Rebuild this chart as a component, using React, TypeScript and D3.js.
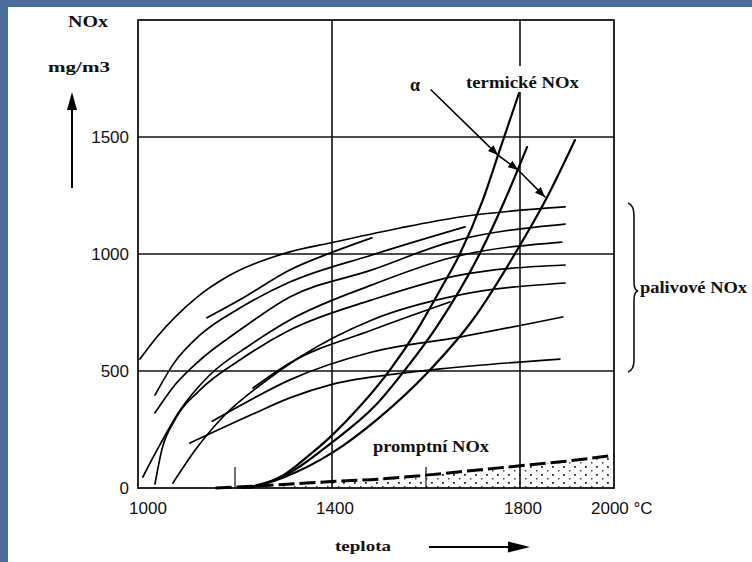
import React from "react";
import * as d3 from "d3";

const W = 752;
const H = 562;

const xTicks = [1000, 1400, 1800, 2000];
const yTicks = [0, 500, 1000, 1500];
const xGrid = [1400, 1800];
const yGrid = [500, 1000, 1500];
const minorTicks = [1200, 1600];

// palivové NOx curves, [°C, mg/m3]
const fuel1 = [[1004, 551], [1039, 645], [1122, 816], [1190, 910], [1313, 1009], [1396, 1047], [1545, 1111], [1672, 1158], [1896, 1201]];
const fuel2 = [[1142, 727], [1210, 804], [1313, 932], [1396, 1004], [1485, 1069]];
const fuel3 = [[1035, 397], [1076, 539], [1128, 654], [1210, 769], [1313, 880], [1485, 996], [1683, 1116]];
const fuel4 = [[1035, 321], [1076, 440], [1128, 547], [1210, 675], [1313, 816], [1485, 932], [1651, 1051], [1896, 1128]];
const fuel5 = [[1010, 47], [1045, 184], [1087, 333], [1148, 483], [1231, 611], [1313, 718], [1485, 868], [1651, 983], [1889, 1051]];
const fuel6 = [[1035, 17], [1049, 162], [1076, 291], [1128, 419], [1210, 547], [1313, 675], [1485, 804], [1672, 910], [1896, 953]];
const fuel7 = [[1072, 21], [1118, 162], [1179, 312], [1252, 440], [1334, 560], [1485, 718], [1672, 825], [1896, 876]];
const fuel8 = [[1153, 285], [1196, 335], [1313, 462], [1485, 581], [1672, 645], [1891, 731]];
const fuel9 = [[1107, 192], [1237, 316], [1313, 385], [1402, 444], [1545, 490], [1630, 509], [1885, 551]];
const fuel10 = [[1237, 427], [1313, 534], [1485, 675], [1651, 795]];
const fuelCurves = [fuel1, fuel2, fuel3, fuel4, fuel5, fuel6, fuel7, fuel8, fuel9, fuel10];

// termické NOx curves
const thermal1 = [[1215, 0], [1260, 18], [1300, 55], [1350, 135], [1400, 225], [1460, 350], [1523, 504], [1581, 675], [1630, 846], [1672, 1000], [1721, 1231], [1757, 1445], [1798, 1688]];
const thermal2 = [[1222, 0], [1300, 50], [1400, 195], [1491, 350], [1555, 504], [1623, 690], [1715, 1004], [1768, 1231], [1815, 1457]];
const thermal3 = [[1230, 0], [1300, 45], [1400, 150], [1500, 300], [1604, 495], [1700, 720], [1789, 1000], [1857, 1240], [1917, 1487]];
const thermalCurves = [thermal1, thermal2, thermal3];

// promptní NOx
const prompt = [[1160, 0], [1300, 15], [1400, 28], [1500, 38], [1600, 55], [1700, 75], [1800, 95], [1900, 115], [2000, 140]];

// α pointer
const alphaPath = [[1611, 1701], [1753, 1423], [1796, 1359], [1853, 1244]];

const x = d3.scaleLinear().domain([1000, 1400, 1800, 2000]).range([138, 332, 520, 614]);
const y = d3.scaleLinear().domain([0, 2000]).range([488, 20]);

const line = d3
  .line<number[]>()
  .x((d) => x(d[0]))
  .y((d) => y(d[1]))
  .curve(d3.curveMonotoneX);

const straight = d3
  .line<number[]>()
  .x((d) => x(d[0]))
  .y((d) => y(d[1]));

const promptArea = d3
  .area<number[]>()
  .x((d) => x(d[0]))
  .y0(y(0))
  .y1((d) => y(d[1]))
  .curve(d3.curveMonotoneX);

const serif = "'Liberation Serif', 'Times New Roman', serif";
const sans = "'Liberation Sans', Arial, sans-serif";

function head(px: number, py: number, ang: number, len = 10, w = 4) {
  const bx = px - len * Math.cos(ang);
  const by = py - len * Math.sin(ang);
  const nx = -Math.sin(ang) * w;
  const ny = Math.cos(ang) * w;
  return `M${px},${py}L${bx + nx},${by + ny}L${bx - nx},${by - ny}Z`;
}

export default function App() {
  const alphaHeads = alphaPath.slice(1).map((d, i) => {
    const p = alphaPath[i];
    const ang = Math.atan2(y(d[1]) - y(p[1]), x(d[0]) - x(p[0]));
    return head(x(d[0]), y(d[1]), ang);
  });

  return (
    <div style={{ position: "fixed", left: 0, top: 0 }}>
      <svg width={W} height={H} style={{ display: "block" }}>
        <defs>
          <pattern id="dots" width="11" height="8" patternUnits="userSpaceOnUse">
            <rect x="2" y="2" width="1.8" height="1.8" fill="#222" />
            <rect x="8" y="6" width="1.5" height="1.5" fill="#444" />
          </pattern>
        </defs>
        <rect width={W} height={H} fill="#4b6d9c" />
        <rect x={8} y={7} width={W - 8} height={H - 7} fill="#ffffff" />

        {/* stipple under prompt NOx */}
        <path d={promptArea(prompt.filter((d) => d[0] >= 1300)) || ""} fill="url(#dots)" />

        {/* grid */}
        <g stroke="#111" strokeWidth={1.6}>
          {xGrid.map((t) => (
            <line key={t} x1={x(t)} x2={x(t)} y1={y(0)} y2={y(2000)} />
          ))}
          {yGrid.map((v) => (
            <line key={v} x1={x(1000)} x2={x(2000)} y1={y(v)} y2={y(v)} />
          ))}
          {minorTicks.map((t) => (
            <line key={t} x1={x(t)} x2={x(t)} y1={y(0)} y2={y(90)} strokeWidth={1.2} />
          ))}
          <rect x={x(1000)} y={y(2000)} width={x(2000) - x(1000)} height={y(0) - y(2000)} fill="none" strokeWidth={1.8} />
        </g>

        {/* curves */}
        <g fill="none" stroke="#000" strokeLinecap="round">
          {fuelCurves.map((c, i) => (
            <path key={"f" + i} d={line(c) || ""} strokeWidth={1.7} />
          ))}
          {thermalCurves.map((c, i) => (
            <path key={"t" + i} d={line(c) || ""} strokeWidth={2.2} />
          ))}
          <path d={line(prompt) || ""} strokeWidth={3} strokeDasharray="16 5" strokeLinecap="butt" />
          <path d={straight(alphaPath) || ""} strokeWidth={1.6} />
        </g>
        <g fill="#000">
          {alphaHeads.map((d, i) => (
            <path key={i} d={d} />
          ))}
        </g>

        {/* tick labels */}
        <g fontFamily={sans} fontSize={17} fill="#111">
          {yTicks.map((v) => (
            <text key={v} x={129} y={y(v)} dy="0.36em" textAnchor="end">
              {v}
            </text>
          ))}
          {xTicks.slice(0, 3).map((t) => (
            <text key={t} x={x(t) + (t === 1000 ? 10 : 3)} y={514} textAnchor="middle">
              {t}
            </text>
          ))}
          <text x={x(2000) - 23} y={514}>2000 °C</text>
        </g>

        {/* labels */}
        <g fontFamily={serif} fontWeight="bold" fill="#111">
          <text x={68} y={27} fontSize={17} textLength={40} lengthAdjust="spacingAndGlyphs">NOx</text>
          <text x={48} y={72} fontSize={15} textLength={62} lengthAdjust="spacingAndGlyphs">mg/m3</text>
          <rect x={462} y={66} width={120} height={26} fill="#fff" />
          <text x={466} y={88} fontSize={17} textLength={113} lengthAdjust="spacingAndGlyphs">termické NOx</text>
          <text x={410} y={91} fontSize={18}>α</text>
          <text x={640} y={293} fontSize={16} textLength={107} lengthAdjust="spacingAndGlyphs">palivové NOx</text>
          <text x={373} y={452} fontSize={16} textLength={116} lengthAdjust="spacingAndGlyphs">promptní NOx</text>
          <text x={335} y={551} fontSize={15} textLength={56} lengthAdjust="spacingAndGlyphs">teplota</text>
        </g>

        {/* axis arrows */}
        <g stroke="#000" strokeWidth={2} fill="#000">
          <line x1={72} y1={188} x2={72} y2={104} />
          <path d="M72,92L67,110L77,110Z" stroke="none" />
          <line x1={429} y1={547} x2={514} y2={547} />
          <path d="M530,547L508,541.5L508,552.5Z" stroke="none" />
        </g>

        {/* brace */}
        <path
          d="M628,203 Q634,205 634,216 L634,282 Q634,290 638,291 Q634,292 634,300 L634,360 Q634,370 628,372"
          fill="none"
          stroke="#111"
          strokeWidth={1.6}
        />
      </svg>
    </div>
  );
}
